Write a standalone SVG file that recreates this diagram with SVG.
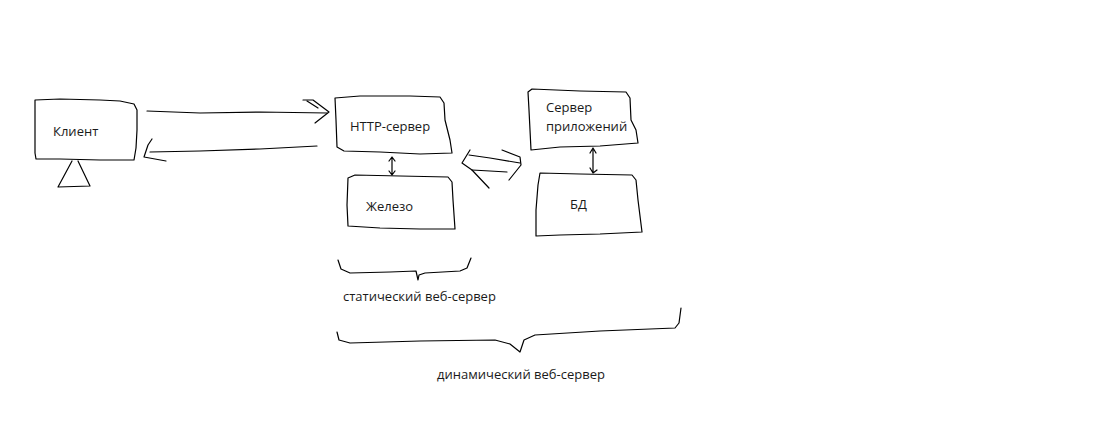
<svg xmlns="http://www.w3.org/2000/svg" width="1119" height="426" viewBox="0 0 1119 426">
<style>
.s{fill:none;stroke:#000;stroke-width:1.2;stroke-linejoin:round;stroke-linecap:round}
.b{fill:#fff;stroke:#000;stroke-width:1.2;stroke-linejoin:round}
.t{font-family:"Open Sans","Noto Sans",sans-serif;font-size:13px;fill:#1a1a1a}
</style>
<rect width="1119" height="426" fill="#fff"/>
<g id="client">
<path class="b" d="M35,100 L60,99 L100,100 L120,101 L134,104 L137,110 L137,130 L136,148 L134,160 L100,160 L60,159 L36,159 L35,153 Z"/>
<path class="s" d="M72,161 L58,187 L90,186 L78,161"/>
<text class="t" x="53" y="136">Клиент</text>
</g>
<g id="http">
<path class="b" d="M335,98 L360,96 L410,96 L440,97 L444,103 L445,120 L450,140 L452,153 L420,154 L380,152 L344,151 L337,147 L336,120 Z"/>
<text class="t" x="350" y="131">HTTP-сервер</text>
</g>
<g id="iron">
<path class="b" d="M348,178 L355,175 L400,176 L448,177 L452,182 L453,200 L455,229 L420,229 L380,228 L348,226 L347,205 Z"/>
<text class="t" x="366" y="211">Железо</text>
</g>
<g id="app">
<path class="b" d="M528,92 L532,89 L580,91 L626,92 L630,98 L631,120 L636,130 L638,143 L600,146 L560,147 L531,150 L530,130 L529,110 Z"/>
<text class="t" x="546" y="112">Сервер</text>
<text class="t" x="546" y="131">приложений</text>
</g>
<g id="db">
<path class="b" d="M540,173 L580,174 L632,175 L636,180 L638,200 L642,232 L600,234 L560,235 L536,236 L536,210 L538,185 Z"/>
<text class="t" x="570" y="209">БД</text>
</g>
<g id="connectors">
<path class="s" d="M147,111 L200,113 L260,112 L327,113"/>
<path class="s" d="M303,100 L313,100 L329,112 L315,123"/>
<path class="s" d="M307,101 L318,108"/>
<path class="s" d="M317,146 L260,149 L200,151 L150,152"/>
<path class="s" d="M152,139 L148,145 L144,157 L166,161"/>
<path class="s" d="M392,158 L392,174 M389,161 L392,157 L395,161 M389,171 L392,175 L395,171"/>
<path class="s" d="M593,150 L593,172 M590,153 L593,148 L596,153 M590,168 L593,173 L597,170"/>
<path class="s" d="M470,150 L462,163 L472,170 L489,188"/>
<path class="s" d="M469,155 L490,158 L520,163"/>
<path class="s" d="M502,150 L520,157 L521,165 L509,180"/>
<path class="s" d="M472,170 L490,171 L507,172"/>
<path class="s" d="M338,260 L341,269 L350,273 L390,272 L416,271 L418,280 L419,275 L425,273 L460,271 L467,268 L471,258"/>
<path class="s" d="M337,332 L339,340 L350,343 L420,341 L495,340 L510,344 L520,352 L524,340 L535,335 L600,331 L675,328 L679,323 L681,308"/>
</g>
<text class="t" x="343" y="301">статический веб-сервер</text>
<text class="t" x="437" y="379">динамический веб-сервер</text>
</svg>
